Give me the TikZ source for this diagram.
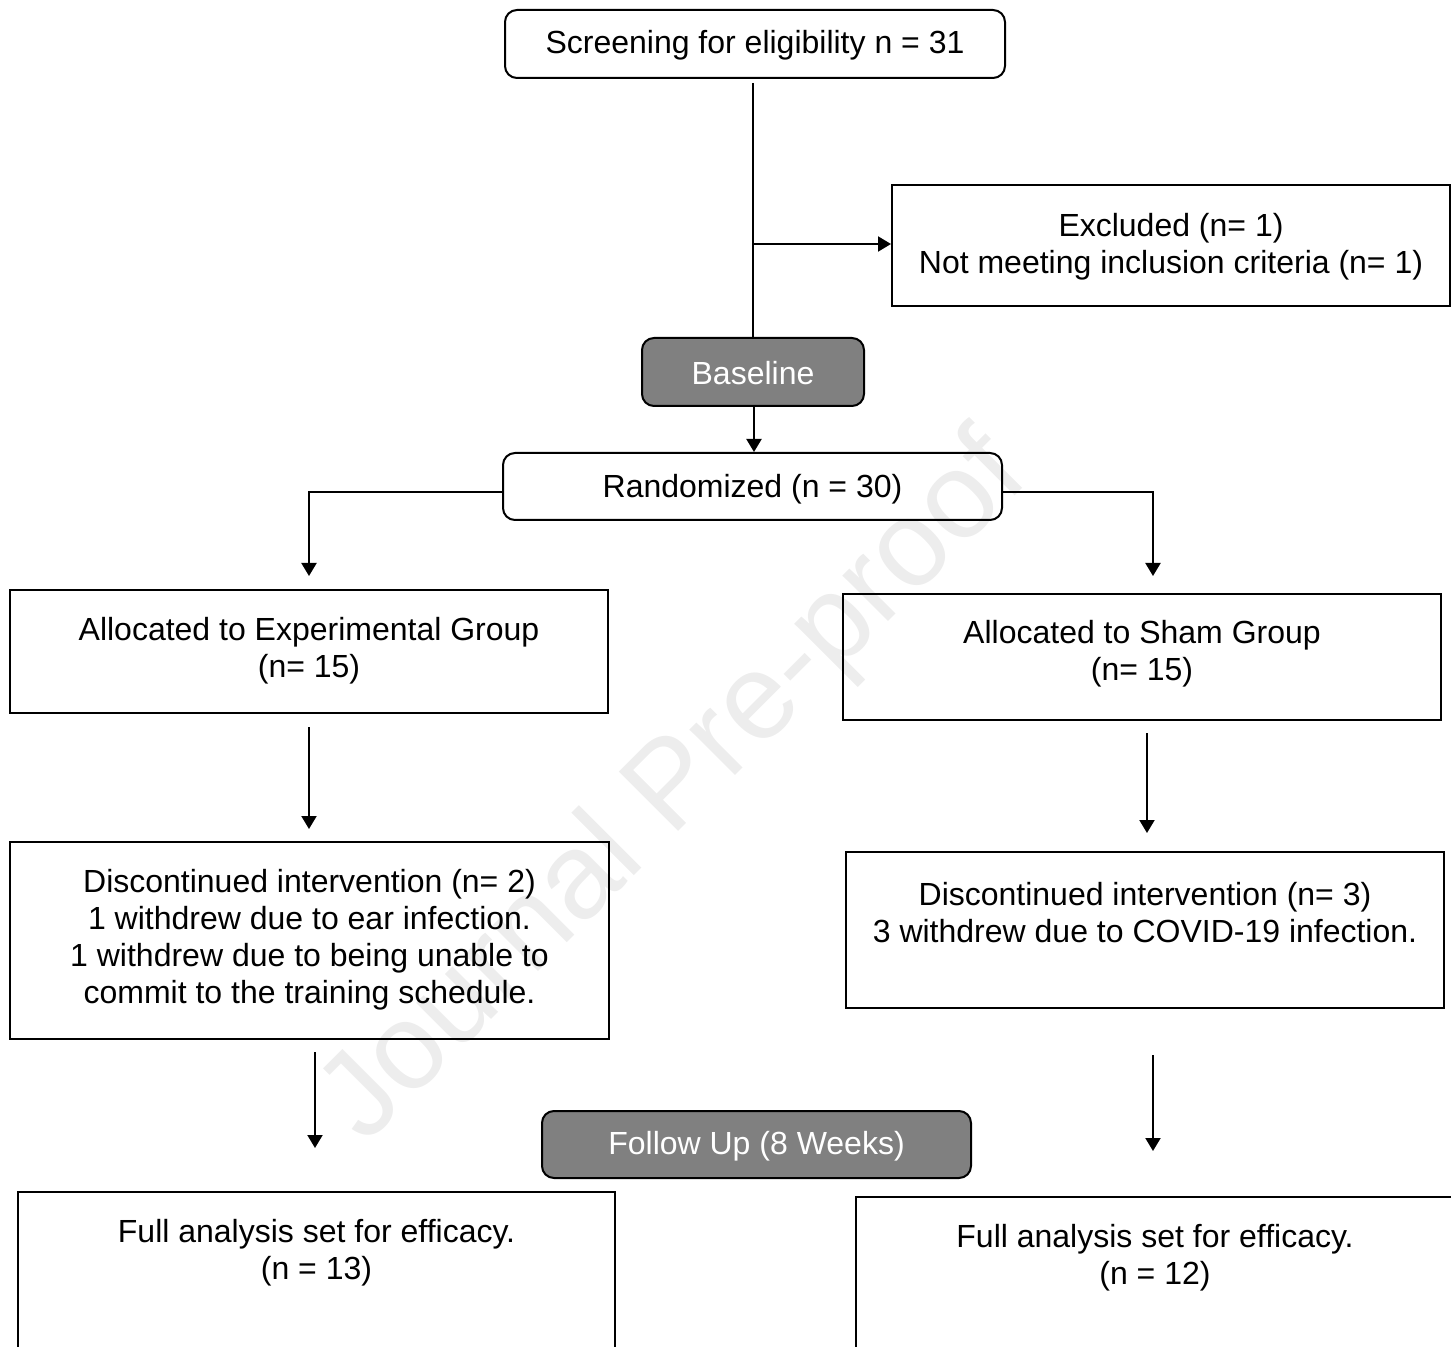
\documentclass[tikz,border=0pt]{standalone}
\usepackage{fontspec}
\setmainfont{Liberation Sans}
\usetikzlibrary{arrows.meta}
\begin{document}
\begin{tikzpicture}[x=0.5pt,y=-0.5pt,
  box/.style={draw=black,line width=1pt,inner sep=0pt},
  rbox/.style={box,rounded corners=6pt},
  gbox/.style={rbox,fill=black!50},
  txt/.style={align=center,font=\fontsize{16pt}{18.5pt}\selectfont,inner sep=0pt},
  wtxt/.style={txt,text=white},
  conn/.style={line width=1pt},
  arr/.style={conn,-{Triangle[width=7.5pt,length=6.5pt]}}]
\useasboundingbox (0,0) rectangle (1451,1347);
\clip (0,0) rectangle (1451,1347);
% watermark
\node[rotate=45,text=black!7,font=\fontsize{61pt}{61pt}\selectfont,inner sep=0pt] (wm) at (676,790) {Journal Pre-proof};
% boxes
\node[rbox,minimum width=250pt,minimum height=34pt] (scr) at (755,44) {};
\node[txt] (scrt) at (755,45) {Screening for eligibility n = 31};
\node[box,minimum width=279pt,minimum height=60.5pt] (exc) at (1171,245.5) {};
\node[txt] (exct) at (1171,246.5) {Excluded (n= 1)\\Not meeting inclusion criteria (n= 1)};
\node[gbox,minimum width=111pt,minimum height=34pt] (base) at (753,372) {};
\node[wtxt] (baset) at (753,373) {Baseline};
\node[rbox,minimum width=249.5pt,minimum height=33.5pt] (rand) at (752.5,486.5) {};
\node[txt] (randt) at (752.5,489) {Randomized (n = 30)};
\node[box,minimum width=299pt,minimum height=61.5pt] (ae) at (309,651.5) {};
\node[txt] (aet) at (309,651) {Allocated to Experimental Group\\(n= 15)};
\node[box,minimum width=299pt,minimum height=63pt] (as) at (1142,657) {};
\node[txt] (ast) at (1142,654) {Allocated to Sham Group\\(n= 15)};
\node[box,minimum width=299.5pt,minimum height=98.5pt] (de) at (309.5,940.5) {};
\node[txt] (det) at (309.5,939.5) {Discontinued intervention (n= 2)\\1 withdrew due to ear infection.\\1 withdrew due to being unable to\\commit to the training schedule.};
\node[box,minimum width=299pt,minimum height=78pt] (ds) at (1145,930) {};
\node[txt] (dst) at (1145,913) {Discontinued intervention (n= 3)\\3 withdrew due to COVID-19 infection.};
\node[gbox,minimum width=214.5pt,minimum height=33.5pt] (fu) at (756.5,1144.5) {};
\node[wtxt] (fut) at (756.5,1146) {Follow Up (8 Weeks)};
\node[box,minimum width=298.5pt,minimum height=100pt] (fe) at (316.5,1292) {};
\node[txt] (fet) at (316.5,1253) {Full analysis set for efficacy.\\(n = 13)};
\node[box,minimum width=302pt,minimum height=100pt] (fs) at (1158,1297) {};
\node[txt] (fst) at (1155,1258) {Full analysis set for efficacy.\\(n = 12)};
% connectors
\coordinate (s0) at (753,83);
\coordinate (sj) at (753,244);
\draw[conn] (s0) -- (s0 |- base.north);
\draw[arr] (sj) -- (exc.west |- sj);
\draw[arr] (base.south -| 754,0) -- (rand.north -| 754,0);
\coordinate (lt) at (309,492);
\coordinate (rt) at (1153,492);
\draw[arr] (rand.west |- lt) -- (lt) -- (309,576);
\draw[arr] (rand.east |- rt) -- (rt) -- (1153,576);
\coordinate (a1) at (309,727);
\coordinate (a2) at (1147,733);
\draw[arr] (a1) -- (309,829);
\draw[arr] (a2) -- (1147,833);
\coordinate (b1) at (315,1052);
\coordinate (b2) at (1153,1055);
\draw[arr] (b1) -- (315,1148);
\draw[arr] (b2) -- (1153,1151);
\end{tikzpicture}
\end{document}
